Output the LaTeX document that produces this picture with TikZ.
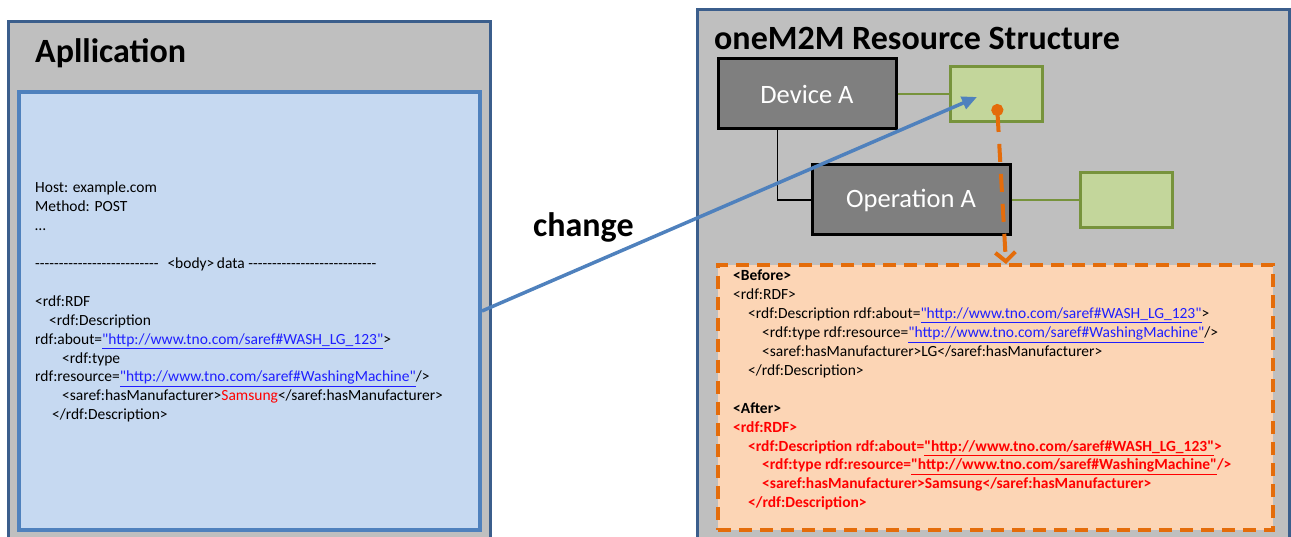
\documentclass[tikz,border=0pt]{standalone}
\usepackage{fontspec}
\setmainfont{Carlito}[Ligatures=TeXOff]
\usetikzlibrary{arrows.meta, positioning}

\definecolor{panelgray}{HTML}{BFBFBF}
\definecolor{frameblue}{HTML}{3B5E8C}
\definecolor{appfill}{HTML}{C6D9F1}
\definecolor{appblue}{HTML}{4F81BD}
\definecolor{resgray}{HTML}{7F7F7F}
\definecolor{attrfill}{HTML}{C3D69B}
\definecolor{attrgreen}{HTML}{77933C}
\definecolor{modorange}{HTML}{E46C0A}
\definecolor{modfill}{HTML}{FCD5B5}
\definecolor{linkblue}{HTML}{1F1FFF}
\definecolor{red}{HTML}{FF0000}

\newcommand{\lnk}[2][linkblue]{\textcolor{#1}{\underline{#2}}}
\newcommand{\aft}[1]{\textcolor{red}{\bfseries #1}}
\newcommand{\dashrow}[1]{\foreach \k in {1,...,#1}{\mbox{-}}}

\begin{document}
\begin{tikzpicture}[x=1pt, y=-1pt,
    frame/.style={draw=frameblue, line width=3pt, fill=panelgray},
    title/.style={font=\fontsize{34}{40}\selectfont\bfseries, inner sep=0pt},
    resbox/.style={draw=black, line width=3pt, fill=resgray, text=white,
        font=\fontsize{26.5}{30}\selectfont},
    attrbox/.style={draw=attrgreen, line width=3pt, fill=attrfill,
        minimum width=92pt, minimum height=55pt},
    attrlink/.style={draw=attrgreen, line width=1.6pt},
    codetext/.style={align=left, inner sep=0pt, font=\fontsize{15.5}{18.9}\selectfont}]

    \clip (0,0) rectangle (1291,537);

    % Cadres
    \draw[frame] (8,22) rectangle (490,560);
    \draw[frame] (697,10) rectangle (1289,560);

    % Application
    \node[title, anchor=base west] (apptitle) at (35,63) {Apllication};
    \node[draw=appblue, line width=4pt, fill=appfill,
          minimum width=461pt, minimum height=438pt] (app) at (249.5,311) {};
    \node[codetext, anchor=north west] (req) at (35,182) {%
        Host: example.com\\
        Method: POST\\
        …\\
        \mbox{}\\
        \dashrow{26}\hspace{9pt}<body>\,data \dashrow{27}\\
        \mbox{}\\
        <rdf:RDF\\
        \hspace*{14pt}<rdf:Description\\
        rdf:about=\lnk{"http://www.tno.com/saref\#WASH\_LG\_123"}>\\
        \hspace*{27pt}<rdf:type\\
        rdf:resource=\lnk{"http://www.tno.com/saref\#WashingMachine"}/>\\
        \hspace*{27pt}<saref:hasManufacturer>\textcolor{red}{Samsung}</saref:hasManufacturer>\\
        \hspace*{17pt}</rdf:Description>};

    % Structure oneM2M
    \node[title, anchor=base west] (m2mtitle) at (714,50) {oneM2M Resource Structure};
    \node[resbox, minimum width=178pt, minimum height=70pt] (dev) at (807,94) {Device A};
    \node[resbox, minimum width=198pt, minimum height=70pt] (op) at (911,200) {Operation A};
    \node[attrbox] (attr1) at (996,94) {};
    \node[attrbox] (attr2) at (1126,200) {};

    \draw[attrlink] (dev.east) -- (attr1.west);
    \draw[attrlink] (op.east) -- (attr2.west);
    \draw[line width=1.2pt] ([xshift=61pt]dev.south west) |- (op.west);

    % Contenu modifie
    \node[draw=modorange, line width=4pt, dash pattern=on 13pt off 8pt, fill=modfill,
          minimum width=555pt, minimum height=265pt] (mod) at (995.5,397.5) {};
    \node[codetext, anchor=north west] (modtext) at (733,270) {%
        \textbf{<Before>}\\
        <rdf:RDF>\\
        \hspace*{15pt}<rdf:Description rdf:about=\lnk{"http://www.tno.com/saref\#WASH\_LG\_123"}>\\
        \hspace*{29pt}<rdf:type rdf:resource=\lnk{"http://www.tno.com/saref\#WashingMachine"}/>\\
        \hspace*{29pt}<saref:hasManufacturer>LG</saref:hasManufacturer>\\
        \hspace*{15pt}</rdf:Description>\\
        \mbox{}\\
        \textbf{<After>}\\
        \aft{<rdf:RDF>}\\
        \hspace*{15pt}\aft{<rdf:Description rdf:about=\lnk[red]{"http://www.tno.com/saref\#WASH\_LG\_123"}>}\\
        \hspace*{29pt}\aft{<rdf:type rdf:resource=\lnk[red]{"http://www.tno.com/saref\#WashingMachine"}/>}\\
        \hspace*{29pt}\aft{<saref:hasManufacturer>Samsung</saref:hasManufacturer>}\\
        \hspace*{15pt}\aft{</rdf:Description>}};

    % Fleches
    \coordinate (dot) at (997,104);
    \coordinate (drop) at (1006,264);
    \coordinate (hit) at (977,97);
    \draw[modorange, line width=4pt, dash pattern=on 18pt off 12pt,
          {Circle[length=12pt]}-{Straight Barb[length=9pt, width=20pt]}] (dot) -- (drop);
    \draw[appblue, line width=3.5pt, -{Triangle[length=15pt, width=13pt]}] (app.east) -- (hit);

    \node[title, anchor=base west] (change) at (533,237) {change};
\end{tikzpicture}
\end{document}
